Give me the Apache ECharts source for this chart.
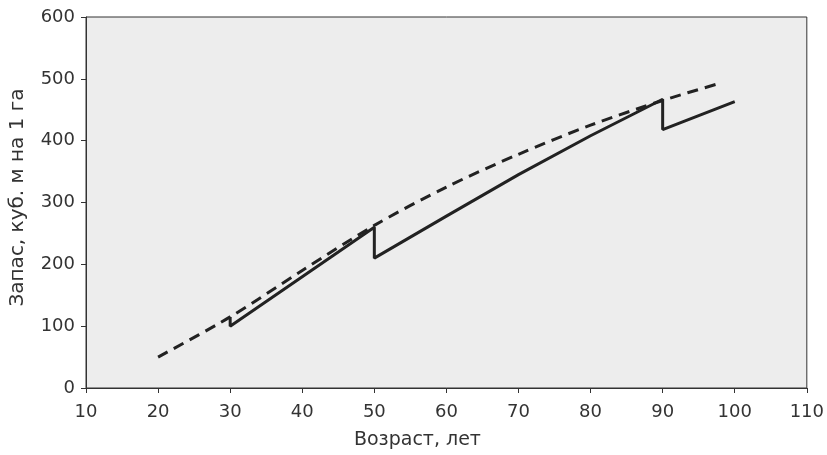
<!DOCTYPE html>
<html><head><meta charset="utf-8">
<script src="https://cdn.jsdelivr.net/npm/echarts@6/dist/echarts.min.js"></script>
<style>html,body{margin:0;padding:0;background:#fff}#c{width:827px;height:455px}</style>
</head><body><div id="c"></div>
<script>
const solidAge = [30, 30, 40, 50, 50, 60, 70, 80, 90, 90, 100];
const solidVol = [115, 100, 180, 260, 210, 278, 345, 408, 467, 418, 463];
const dashAge = [20, 30, 40, 50, 60, 70, 80, 90, 98];
const dashVol = [50, 115, 190, 263, 325, 378, 425, 465, 493];
const xTitle = 'Возраст, лет';
const yTitle = 'Запас, куб. м на 1 га';

const chart = echarts.init(document.getElementById('c'));
const font = 'DejaVu Sans, sans-serif';
chart.setOption({
  animation: false,
  grid: {left: 85, right: 20, top: 17, bottom: 67, show: true, backgroundColor: '#ededed', borderColor: '#333', borderWidth: 1},
  xAxis: {
    type: 'value', min: 10, max: 110, interval: 10,
    name: xTitle, nameLocation: 'middle', nameGap: 43,
    nameTextStyle: {fontSize: 19, color: '#333', fontFamily: font, padding: [0, 58, 0, 0]},
    axisLine: {show: true, lineStyle: {color: '#333'}},
    axisTick: {show: true, length: 5, lineStyle: {color: '#333'}},
    axisLabel: {fontSize: 18, color: '#333', fontFamily: font, margin: 15},
    splitLine: {show: false}
  },
  yAxis: {
    type: 'value', min: 0, max: 600, interval: 100,
    name: yTitle, nameLocation: 'middle', nameGap: 58,
    nameTextStyle: {fontSize: 20, color: '#333', fontFamily: font, padding: [0, 0, 0, 10]},
    axisLine: {show: true, lineStyle: {color: '#333'}},
    axisTick: {show: true, length: 5, lineStyle: {color: '#333'}},
    axisLabel: {fontSize: 18, color: '#333', fontFamily: font, margin: 11},
    splitLine: {show: false}
  },
  series: [
    {type: 'line', data: dashAge.map((a, i) => [a, dashVol[i]]), smooth: 0.3, showSymbol: false,
     lineStyle: {color: '#222', width: 3, type: [11, 7]}},
    {type: 'line', data: solidAge.map((a, i) => [a, solidVol[i]]), showSymbol: false,
     lineStyle: {color: '#222', width: 3}}
  ]
});
</script></body></html>
